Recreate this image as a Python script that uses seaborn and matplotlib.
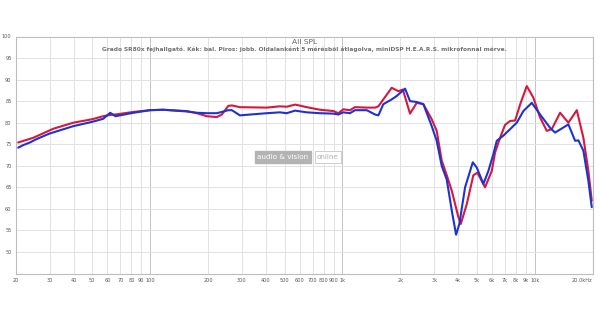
import numpy as np
import pandas as pd
import matplotlib
matplotlib.use("Agg")
import matplotlib.pyplot as plt
import seaborn as sns

# Right channel (red)
red_freq = [20.6, 24.7, 31.4, 39.9, 50, 57, 62, 66, 82, 100, 117, 155, 175, 197, 222, 236, 255, 266,
            293, 404, 473, 513, 567, 652, 764, 897, 952, 1010, 1094, 1162, 1337, 1477, 1537, 1631,
            1803, 1952, 2060, 2245, 2432, 2634, 2911, 3090, 3281, 3485, 3701, 4005, 4122, 4429,
            4792, 5030, 5513, 5974, 6217, 6600, 7007, 7439, 7900, 8385, 9084, 9831, 10655, 11544,
            12256, 13536, 14950, 16530, 17890, 18990, 19780]
red_db = [75.4, 76.5, 78.6, 80.0, 80.8, 81.5, 81.8, 81.9, 82.5, 82.9, 83.0, 82.7, 82.2, 81.5, 81.3,
          81.9, 83.9, 84.0, 83.6, 83.5, 83.8, 83.7, 84.2, 83.6, 83.0, 82.7, 82.2, 83.1, 82.9, 83.6,
          83.5, 83.5, 83.8, 85.4, 88.1, 87.3, 87.7, 82.1, 84.6, 84.3, 80.8, 78.1, 71.2, 67.8, 64.2,
          58.1, 56.5, 61.1, 67.8, 68.4, 65.0, 68.8, 73.1, 76.5, 79.5, 80.4, 80.5, 84.2, 88.5, 85.8,
          81.2, 78.1, 78.5, 82.3, 80.0, 82.9, 76.5, 68.8, 61.9]

# Left channel (blue)
blue_freq = [20.6, 21.9, 23.7, 25.7, 29.0, 30.1, 39.9, 50, 57, 62, 66, 82, 100, 117, 155, 175, 197,
             222, 236, 255, 266, 293, 404, 473, 513, 567, 652, 764, 897, 952, 1010, 1094, 1162, 1337,
             1477, 1537, 1631, 1803, 1915, 2116, 2245, 2432, 2634, 2911, 3090, 3281, 3485, 3701,
             3897, 4053, 4340, 4758, 4991, 5403, 5736, 6089, 6343, 6866, 7439, 8059, 8721, 9646,
             10655, 12011, 12751, 14950, 16200, 16850, 17890, 18990, 19780]
blue_db = [74.2, 74.8, 75.4, 76.2, 77.2, 77.5, 79.2, 80.2, 80.9, 82.3, 81.5, 82.3, 82.9, 83.0, 82.6,
           82.3, 82.2, 82.2, 82.5, 82.9, 82.9, 81.7, 82.2, 82.4, 82.2, 82.8, 82.4, 82.2, 82.1, 81.9,
           82.4, 82.2, 82.9, 82.9, 81.9, 81.7, 84.3, 85.4, 86.2, 87.9, 85.0, 84.8, 84.3, 79.2, 75.8,
           70.0, 66.8, 59.6, 54.0, 56.5, 65.0, 70.8, 69.6, 65.8, 68.8, 72.7, 75.8, 77.0, 78.5, 80.0,
           82.7, 84.6, 81.9, 78.8, 77.7, 79.6, 75.8, 75.9, 73.5, 66.5, 60.4]

x_ticks = [20, 30, 40, 50, 60, 70, 80, 90, 100, 200, 300, 400, 500, 600, 700, 800, 900,
           1000, 2000, 3000, 4000, 5000, 6000, 7000, 8000, 9000, 10000, 20000]
x_labels = ["20", "30", "40", "50", "60", "70", "80", "90", "100", "200", "300", "400", "500",
            "600", "700", "800", "900", "1k", "2k", "3k", "4k", "5k", "6k", "7k", "8k", "9k",
            "10k", "20.0kHz"]
y_ticks = [50, 55, 60, 65, 70, 75, 80, 85, 90, 95, 100]

title = "All SPL"
subtitle = ("Grado SR80x fejhallgató. Kék: bal. Piros: jobb. Oldalanként 5 mérésből átlagolva, "
            "miniDSP H.E.A.R.S. mikrofonnal mérve.")

df = pd.concat([
    pd.DataFrame({"freq": red_freq, "db": red_db, "ch": "Piros"}),
    pd.DataFrame({"freq": blue_freq, "db": blue_db, "ch": "Kék"}),
])

sns.set_style("white")
plt.rcParams["font.family"] = ["DejaVu Sans"]

fig = plt.figure(figsize=(6, 3.14), dpi=100)
ax = fig.add_axes([15.7 / 600, 1 - 273.5 / 314, (592.7 - 15.7) / 600, (273.5 - 36.5) / 314])

ax.set_xscale("log")
ax.set_xlim(20, 20000)
ax.set_ylim(45, 100)

for xv in x_ticks:
    c = "#c4c4c4" if xv in (100, 1000, 10000) else "#e2e2e2"
    ax.axvline(xv, color=c, lw=0.7, zorder=0)
for yv in y_ticks:
    ax.axhline(yv, color="#e2e2e2", lw=0.7, zorder=0)

sns.lineplot(data=df, x="freq", y="db", hue="ch", sort=False, estimator=None,
             palette={"Piros": "#d8173f", "Kék": "#1d33d0"}, hue_order=["Piros", "Kék"],
             lw=1.5, legend=False, ax=ax, zorder=3)

ax.set_xticks(x_ticks)
ax.set_xticklabels(x_labels)
ax.minorticks_off()
ax.set_yticks(y_ticks)
ax.set_yticklabels([str(v) for v in y_ticks])
ax.tick_params(axis="both", length=0, labelsize=3.6, colors="#555555", pad=3)
xl = ax.get_xticklabels()
xl[-1].set_ha("right")
ax.set_xlabel("")
ax.set_ylabel("")
for s in ax.spines.values():
    s.set_color("#bdbdbd")
    s.set_linewidth(0.8)

ax.text(0.5, 0.977, title, transform=ax.transAxes, ha="center", va="center",
        fontsize=5.4, color="#666666")
ax.text(0.5, 0.948, subtitle, transform=ax.transAxes, ha="center", va="center",
        fontsize=4.25, color="#707070", fontweight="bold")

# watermark
fig.text(283 / 600, 1 - 157 / 314, "audio & vision", ha="center", va="center",
         fontsize=5.2, color="white",
         bbox=dict(boxstyle="square,pad=0.35", fc="#b3b3b3", ec="#b3b3b3"))
fig.text(328 / 600, 1 - 157 / 314, "online", ha="center", va="center",
         fontsize=5.2, color="#b3b3b3",
         bbox=dict(boxstyle="square,pad=0.35", fc="white", ec="#c8c8c8", lw=0.6))

fig.savefig("out.png", dpi=100, facecolor="white")
